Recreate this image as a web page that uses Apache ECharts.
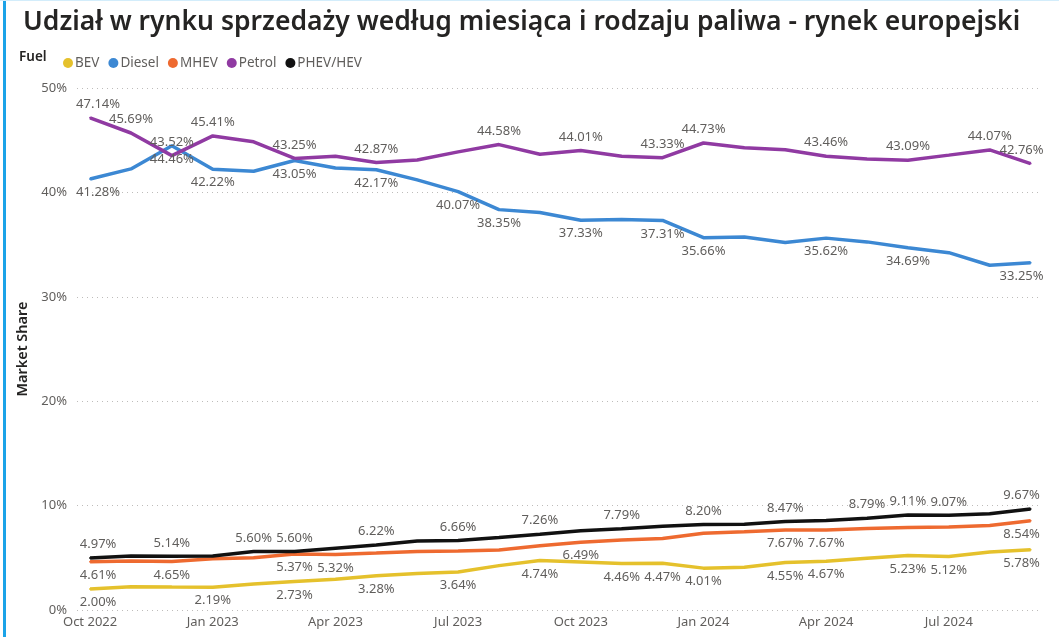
<!DOCTYPE html>
<html>
<head>
<meta charset="utf-8">
<script src="https://cdn.jsdelivr.net/npm/echarts@6/dist/echarts.min.js"></script>
<style>
html,body{margin:0;padding:0;background:#fff;}
#chart{width:1059px;height:637px;}
</style>
</head>
<body>
<div id="chart"></div>
<script>
// ---- data ----
const months = ['Oct 2022','Nov 2022','Dec 2022','Jan 2023','Feb 2023','Mar 2023','Apr 2023','May 2023','Jun 2023','Jul 2023','Aug 2023','Sep 2023','Oct 2023','Nov 2023','Dec 2023','Jan 2024','Feb 2024','Mar 2024','Apr 2024','May 2024','Jun 2024','Jul 2024','Aug 2024','Sep 2024'];
const tickLabels = ['Oct 2022','Jan 2023','Apr 2023','Jul 2023','Oct 2023','Jan 2024','Apr 2024','Jul 2024'];
const seriesNames = ['BEV','Diesel','MHEV','Petrol','PHEV/HEV'];
const bev    = [2.00, 2.22, 2.20, 2.19, 2.50, 2.73, 2.95, 3.28, 3.50, 3.64, 4.25, 4.74, 4.60, 4.46, 4.47, 4.01, 4.10, 4.55, 4.67, 4.95, 5.23, 5.12, 5.55, 5.78];
const diesel = [41.28, 42.25, 44.46, 42.22, 42.02, 43.05, 42.33, 42.17, 41.20, 40.07, 38.35, 38.07, 37.33, 37.40, 37.31, 35.66, 35.72, 35.20, 35.62, 35.26, 34.69, 34.23, 33.02, 33.25];
const mhev   = [4.61, 4.70, 4.65, 4.90, 5.00, 5.37, 5.32, 5.45, 5.60, 5.65, 5.75, 6.15, 6.49, 6.70, 6.85, 7.35, 7.50, 7.67, 7.67, 7.80, 7.90, 7.95, 8.10, 8.54];
const petrol = [47.14, 45.69, 43.52, 45.41, 44.85, 43.25, 43.47, 42.87, 43.10, 43.88, 44.58, 43.66, 44.01, 43.47, 43.33, 44.73, 44.27, 44.08, 43.46, 43.21, 43.09, 43.57, 44.07, 42.76];
const phev   = [4.97, 5.18, 5.14, 5.18, 5.60, 5.60, 5.92, 6.22, 6.60, 6.66, 6.95, 7.26, 7.58, 7.79, 8.03, 8.20, 8.22, 8.47, 8.58, 8.79, 9.11, 9.07, 9.22, 9.67];
const yTicks = [0, 10, 20, 30, 40, 50];

// which points carry a data label (indices into months)
const bevLabelIdx    = [0,3,5,7,9,11,13,14,15,17,18,20,21,23];
const dieselLabelIdx = [0,2,3,5,7,9,10,12,14,15,18,20,23];
const mhevLabelIdx   = [0,2,5,6,12,17,18,23];
const petrolLabelIdx = [0,1,2,3,5,7,10,12,14,15,18,20,22,23];
const phevLabelIdx   = [0,2,4,5,7,9,11,13,15,17,19,20,21,23];

// ---- styles ----
const FONT = 'Noto Sans';
const colors = ['#E5C12C', '#3C88D3', '#EE6A30', '#903AA2', '#111111'];
const labelColor = '#605E5C';

function build(values, labelIdx, pos) {
  const last = values.length - 1;
  return values.map((v, i) => {
    const item = { value: [i, v] };
    if (labelIdx.indexOf(i) >= 0) {
      item.label = {
        show: true,
        position: pos,
        distance: 6,
        offset: i === last ? [-9, 0] : (i === 0 ? [8, 0] : [0, 0])
      };
    }
    return item;
  });
}

const seriesDefs = [
  [bev, bevLabelIdx, 'bottom'],
  [diesel, dieselLabelIdx, 'bottom'],
  [mhev, mhevLabelIdx, 'bottom'],
  [petrol, petrolLabelIdx, 'top'],
  [phev, phevLabelIdx, 'top']
];

const chart = echarts.init(document.getElementById('chart'));
chart.setOption({
  animation: false,
  textStyle: { fontFamily: FONT },
  title: {
    text: 'Udział w rynku sprzedaży według miesiąca i rodzaju paliwa - rynek europejski',
    left: 18, top: 4,
    textStyle: { fontFamily: FONT, fontSize: 26.5, fontWeight: 600, color: '#252423' }
  },
  legend: {
    data: seriesNames,
    left: 58, top: 51,
    icon: 'circle',
    itemWidth: 10, itemHeight: 10,
    itemGap: 9,
    textStyle: { fontFamily: FONT, fontSize: 13.5, color: labelColor, padding: [0, 0, 0, -3] }
  },
  graphic: [
    { type: 'rect', left: 3, top: 0, shape: { width: 3, height: 637 }, style: { fill: '#1BA3E8' } },
    { type: 'rect', left: 0, top: 0, shape: { width: 1059, height: 1 }, style: { fill: '#D3EDFB' } },
    { type: 'text', left: 19, top: 50, style: { text: 'Fuel', font: '600 13.5px "Noto Sans"', fill: '#252423' } }
  ],
  grid: { left: 77, right: 19, top: 88, bottom: 27 },
  xAxis: {
    type: 'value',
    min: -0.32, max: 23.23,
    axisLine: { show: false },
    axisTick: { show: false },
    splitLine: { show: false },
    axisLabel: {
      customValues: tickLabels.map(t => months.indexOf(t)),
      formatter: v => months[Math.round(v)],
      fontFamily: FONT, fontSize: 13, color: labelColor, margin: 6
    }
  },
  yAxis: {
    type: 'value',
    min: yTicks[0], max: yTicks[yTicks.length - 1], interval: 10,
    name: 'Market Share',
    nameLocation: 'middle',
    nameGap: 40,
    nameTextStyle: { fontFamily: FONT, fontSize: 14.5, fontWeight: 600, color: '#252423' },
    axisLine: { show: false },
    axisTick: { show: false },
    axisLabel: { formatter: v => v + '%', fontFamily: FONT, fontSize: 13, color: labelColor, margin: 10 },
    splitLine: { lineStyle: { type: [1, 4], color: '#BEBCBA', width: 1 } }
  },
  series: seriesDefs.map((d, k) => ({
    name: seriesNames[k],
    type: 'line',
    data: build(d[0], d[1], d[2]),
    showSymbol: true,
    symbol: 'circle',
    symbolSize: 2,
    color: colors[k],
    lineStyle: { width: 3.5, color: colors[k] },
    itemStyle: { color: colors[k] },
    label: {
      show: false,
      fontFamily: FONT, fontSize: 13, color: labelColor,
      formatter: p => p.value[1].toFixed(2) + '%'
    },
    emphasis: { disabled: true },
    z: k === 4 ? 4 : 3
  }))
});
</script>
</body>
</html>
